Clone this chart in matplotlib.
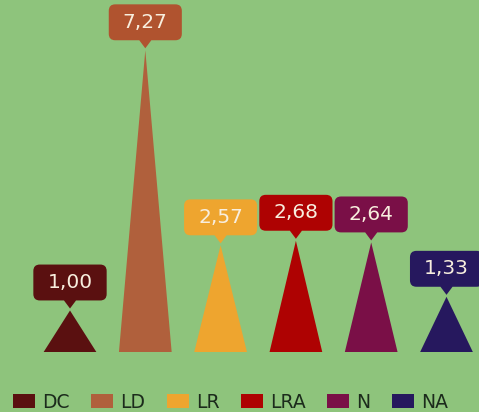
import matplotlib
matplotlib.use("Agg")
import matplotlib.pyplot as plt
from matplotlib.path import Path
from matplotlib.patches import Patch

categories = ["DC", "LD", "LR", "LRA", "N", "NA"]
values = [1.00, 7.27, 2.57, 2.68, 2.64, 1.33]
colors = ["#5a1010", "#b0603c", "#eea52f", "#ae0202", "#7a0f47", "#26185e"]
label_colors = ["#5a1010", "#b0532f", "#eea52f", "#ae0202", "#7a0f47", "#26185e"]
bg = "#8ec47c"

W, H = 479, 412
fig = plt.figure(figsize=(W / 100, H / 100), dpi=100, facecolor=bg)
ax = fig.add_axes([0, 0, 1, 1])
ax.set_facecolor(bg)
for s in ax.spines.values():
    s.set_visible(False)
ax.set_xticks([])
ax.set_yticks([])

# x: category i at pixel 70 + 75.3*i ; y: baseline at 60px from bottom, 41.5 px/unit
ax.set_xlim(-70 / 75.3, (W - 70) / 75.3)
ax.set_ylim(-60 / 41.5, (H - 60) / 41.5)

half = 0.35
for i, (v, c) in enumerate(zip(values, colors)):
    ax.fill([i - half, i, i + half], [0, v, 0], color=c, lw=0)


def callout(x0, y0, width, height, mutation_size):
    ms = mutation_size
    px, py = 0.70 * ms, 0.42 * ms
    r = 0.32 * ms
    hw, ph = 0.30 * ms, 0.40 * ms
    a, b = x0 - px, x0 + width + px
    c, d = y0 - py, y0 + height + py
    cx = x0 + width / 2
    verts = [(a + r, c), (cx - hw, c), (cx, c - ph), (cx + hw, c), (b - r, c),
             (b, c), (b, c + r), (b, d - r), (b, d), (b - r, d), (a + r, d),
             (a, d), (a, d - r), (a, c + r), (a, c), (a + r, c), (a + r, c)]
    codes = [Path.MOVETO, Path.LINETO, Path.LINETO, Path.LINETO, Path.LINETO,
             Path.CURVE3, Path.CURVE3, Path.LINETO, Path.CURVE3, Path.CURVE3,
             Path.LINETO, Path.CURVE3, Path.CURVE3, Path.LINETO, Path.CURVE3,
             Path.CURVE3, Path.CLOSEPOLY]
    return Path(verts, codes)


for i, (v, c) in enumerate(zip(values, label_colors)):
    ax.annotate(f"{v:.2f}".replace(".", ","), xy=(i, v), xytext=(0, 28),
                textcoords="offset pixels", ha="center", va="center",
                fontsize=14.5, color="#f8eede", family="DejaVu Sans",
                bbox=dict(boxstyle=callout, fc=c, ec="none"))

handles = [Patch(facecolor=c, edgecolor="none", label=k) for k, c in zip(categories, colors)]
fig.legend(handles=handles, loc="center left", bbox_to_anchor=(13 / W, 10 / H),
           ncol=6, frameon=False, fontsize=13.5, handlelength=1.17, handleheight=0.8,
           handletextpad=0.37, columnspacing=1.16, borderpad=0, borderaxespad=0,
           labelcolor="#1c2b1c")

fig.savefig("out.png", dpi=100, facecolor=bg)
